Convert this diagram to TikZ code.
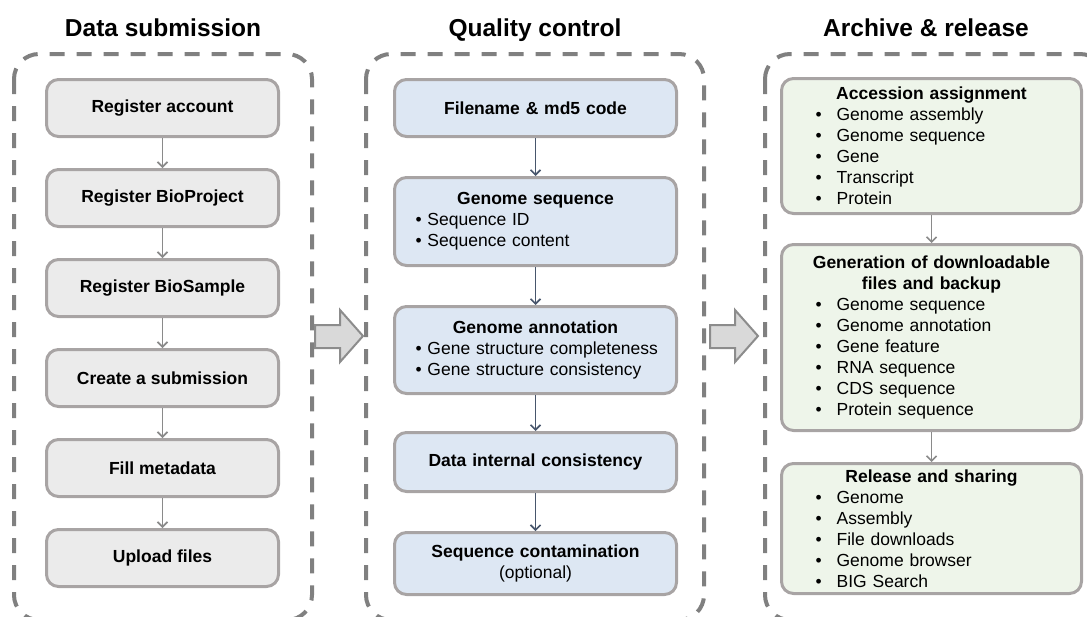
\documentclass[tikz,border=0pt]{standalone}
\usepackage{fontspec}
\setmainfont{Liberation Sans}
\usetikzlibrary{positioning, arrows.meta}
\setlength{\parindent}{0pt}

\newcommand{\boxfont}{\fontsize{17.5}{21}\selectfont}
\newcommand{\headfont}{\fontsize{24.5}{28}\selectfont\bfseries}
\newcommand{\boxhead}[1]{\makebox[\hsize][c]{\bfseries #1}}
\newcommand{\qcitem}{\hspace*{10pt}\textbullet\ }
\newcommand{\aritem}{\hspace*{24pt}\textbullet\hspace{15pt}}

\begin{document}
\begin{tikzpicture}[
        x=1pt, y=-1pt,
        >={Straight Barb[length=5pt, width=10pt]},
        node distance=30pt,
        font=\boxfont
    ]
        % Colours
        \definecolor{dashgrey}{RGB}{128,128,128}
        \definecolor{boxline}{RGB}{168,164,164}
        \definecolor{subfill}{RGB}{235,235,235}
        \definecolor{qcfill}{RGB}{221,231,243}
        \definecolor{arfill}{RGB}{238,245,234}
        \definecolor{qcarrow}{RGB}{72,86,108}
        \definecolor{greyarrow}{RGB}{138,138,138}
        \definecolor{bigfill}{RGB}{217,217,217}
        \definecolor{bigline}{RGB}{140,140,140}

        % Styles
        \tikzstyle{container}=[draw=dashgrey, line width=4pt, dash pattern=on 15pt off 12pt, rounded corners=25pt]
        \tikzstyle{stagehead}=[font=\headfont, anchor=base]
        \tikzstyle{subbox}=[draw=boxline, line width=3pt, rounded corners=12pt, fill=subfill,
            minimum width=232pt, minimum height=57pt, align=center, font=\boxfont\bfseries]
        \tikzstyle{qcbox}=[draw=boxline, line width=3pt, rounded corners=12pt, fill=qcfill,
            minimum width=282pt, minimum height=57pt, text width=260pt, align=left]
        \tikzstyle{arbox}=[draw=boxline, line width=3pt, rounded corners=12pt, fill=arfill,
            minimum width=300pt, text width=280pt, align=left]
        \tikzstyle{subflow}=[->, line width=1.6pt, greyarrow]
        \tikzstyle{qcflow}=[->, line width=1.6pt, qcarrow]
        \tikzstyle{bigarrow}=[draw=bigline, fill=bigfill, line width=2pt, line join=miter]

        \useasboundingbox (0,0) rectangle (1087,616);
        \clip (0,0) rectangle (1087,616);

        % --- Stage frames and headings ---
        \draw[container] (14,54) rectangle (312,620);
        \draw[container] (366,54) rectangle (704,620);
        \draw[container] (765,54) rectangle (1105,620);
        \node[stagehead] (subhead) at (163,36) {Data submission};
        \node[stagehead] (qchead) at (535,36) {Quality control};
        \node[stagehead] (arhead) at (926,36) {Archive \& release};

        % --- Data submission ---
        \node[subbox] (account) at (162.5,108) {Register account};
        \node[subbox, below=of account] (bioproject) {Register BioProject};
        \node[subbox, below=of bioproject] (biosample) {Register BioSample};
        \node[subbox, below=of biosample] (submission) {Create a submission};
        \node[subbox, below=of submission] (metadata) {Fill metadata};
        \node[subbox, below=of metadata] (upload) {Upload files};

        % --- Quality control ---
        \node[qcbox] (filename) at (535.5,108) {\boxhead{Filename \& md5 code}};
        \node[qcbox, minimum height=88pt, below=38pt of filename] (gseq)
            {\boxhead{Genome sequence}\\ \qcitem Sequence ID\\ \qcitem Sequence content};
        \node[qcbox, minimum height=87pt, below=38pt of gseq] (gannot)
            {\boxhead{Genome annotation}\\ \qcitem Gene structure completeness\\ \qcitem Gene structure consistency};
        \node[qcbox, minimum height=59pt, below=36pt of gannot] (internal) {\boxhead{Data internal consistency}};
        \node[qcbox, minimum height=62pt, below=38pt of internal] (contam)
            {\boxhead{Sequence contamination}\\ \makebox[\hsize][c]{(optional)}};

        % --- Archive & release ---
        \node[arbox, minimum height=135pt] (accession) at (931.5,146)
            {\boxhead{Accession assignment}\\ \aritem Genome assembly\\ \aritem Genome sequence\\
             \aritem Gene\\ \aritem Transcript\\ \aritem Protein};
        \node[arbox, minimum height=186pt, below=28pt of accession] (generation)
            {\boxhead{Generation of downloadable}\\ \boxhead{files and backup}\\ \aritem Genome sequence\\
             \aritem Genome annotation\\ \aritem Gene feature\\ \aritem RNA sequence\\
             \aritem CDS sequence\\ \aritem Protein sequence};
        \node[arbox, minimum height=130pt, below=30pt of generation] (release)
            {\boxhead{Release and sharing}\\ \aritem Genome\\ \aritem Assembly\\
             \aritem File downloads\\ \aritem Genome browser\\ \aritem BIG Search};

        % --- Flow inside the stages ---
        \draw[subflow] (account) -- (bioproject);
        \draw[subflow] (bioproject) -- (biosample);
        \draw[subflow] (biosample) -- (submission);
        \draw[subflow] (submission) -- (metadata);
        \draw[subflow] (metadata) -- (upload);
        \draw[qcflow] (filename) -- (gseq);
        \draw[qcflow] (gseq) -- (gannot);
        \draw[qcflow] (gannot) -- (internal);
        \draw[qcflow] (internal) -- (contam);
        \draw[subflow] (accession) -- (generation);
        \draw[subflow] (generation) -- (release);

        % --- Block arrows between the stages ---
        \foreach \x in {315, 710}
            \draw[bigarrow] (\x,325) -- ++(25,0) -- ++(0,-15) -- ++(23,26) -- ++(-23,26)
                -- ++(0,-14) -- ++(-25,0) -- cycle;

    \end{tikzpicture}
\end{document}
